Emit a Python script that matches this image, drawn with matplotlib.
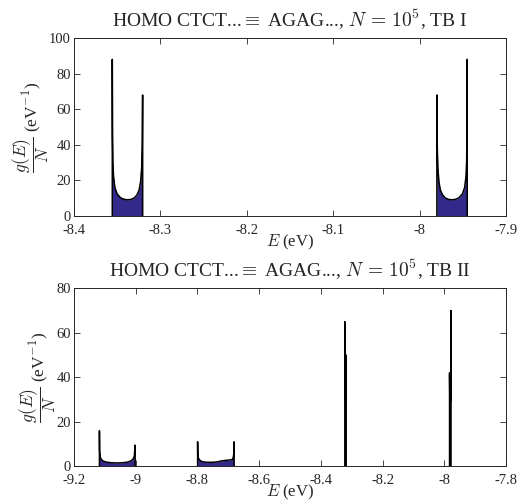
import numpy as np
import matplotlib
matplotlib.use('Agg')
import matplotlib.pyplot as plt
from matplotlib.ticker import FormatStrFormatter

plt.rcParams['font.family'] = ['Liberation Serif', 'DejaVu Serif']
plt.rcParams['mathtext.fontset'] = 'cm'
plt.rcParams['axes.unicode_minus'] = False

# density of states, one band per list (E in eV, g/N in 1/eV)
# TB I
tb1_band1_E = [-8.3555, -8.3555, -8.3552, -8.3548, -8.3540, -8.3525, -8.3500, -8.3460, -8.3420,
               -8.3380, -8.3340, -8.3300, -8.3270, -8.3245, -8.3228, -8.3215, -8.3208, -8.3204, -8.3204]
tb1_band1_g = [0, 88, 45, 30, 22, 16, 12.5, 10.3, 9.4, 9.1, 9.3, 10.2, 11.8, 14.5, 19, 27, 40, 68, 0]
tb1_band2_E = [-7.9800, -7.9800, -7.9796, -7.9789, -7.9776, -7.9759, -7.9734, -7.9704, -7.9664,
               -7.9624, -7.9584, -7.9544, -7.9504, -7.9479, -7.9464, -7.9456, -7.9452, -7.9449, -7.9449]
tb1_band2_g = [0, 68, 40, 27, 19, 14.5, 11.8, 10.2, 9.3, 9.1, 9.4, 10.3, 12.5, 16, 22, 30, 45, 88, 0]

# TB II
tb2_band1_E = [-9.117, -9.117, -9.1165, -9.115, -9.112, -9.106, -9.095, -9.080, -9.060,
               -9.040, -9.025, -9.014, -9.008, -9.004, -9.0015, -9.0015]
tb2_band1_g = [0, 16, 7, 4.5, 3.3, 2.4, 1.9, 1.6, 1.5, 1.6, 1.9, 2.5, 3.3, 4.5, 9.5, 0]
tb2_band2_E = [-8.799, -8.799, -8.7985, -8.797, -8.794, -8.788, -8.778, -8.765, -8.752,
               -8.740, -8.730, -8.7235, -8.6865, -8.6835, -8.6815, -8.681, -8.681]
tb2_band2_g = [0, 11, 6, 4, 3, 2.3, 1.9, 1.8, 1.8, 1.9, 2.1, 2.4, 3, 4, 6, 11, 0]
tb2_band3_E = [-8.3222, -8.3222, -8.3215, -8.3205, -8.3195, -8.3185, -8.3178, -8.3178]
tb2_band3_g = [0, 65, 35, 30, 30, 33, 50, 0]
tb2_band4_E = [-7.9830, -7.9830, -7.9822, -7.9812, -7.9802, -7.9792, -7.9785, -7.9785]
tb2_band4_g = [0, 42, 31, 29, 29, 33, 70, 0]

navy = '#32298a'
axcol = '#262626'


def draw_band(ax, E, g):
    ax.fill_between(E, g, 0, color=navy, lw=0)
    ax.plot(E, g, color='k', lw=1.1)


def style_axes(ax, xlim, ylim, xticks, yticks, title):
    ax.set_xlim(xlim)
    ax.set_ylim(ylim)
    ax.set_xticks(xticks)
    ax.set_yticks(yticks)
    ax.xaxis.set_major_formatter(FormatStrFormatter('%g'))
    ax.tick_params(direction='in', top=True, right=True, length=4, width=0.6,
                   colors=axcol, labelsize=10.5, pad=2)
    ax.tick_params(axis='x', pad=5.5)
    for s in ax.spines.values():
        s.set_color(axcol)
        s.set_linewidth(0.7)
    ax.set_xlabel(r'$E$ (eV)', fontsize=12, color=axcol, labelpad=-3)
    ax.set_ylabel(r'$\dfrac{g(E)}{N}$ (eV$^{-1}$)', fontsize=12.5, color=axcol, labelpad=-1)
    ax.set_title(title, fontsize=14, color=axcol, pad=8)


fig = plt.figure(figsize=(5.31, 5.04), dpi=100)
ax1 = fig.add_axes([0.139, 0.5714, 0.814, 0.3532])
ax2 = fig.add_axes([0.139, 0.0748, 0.814, 0.3532])

draw_band(ax1, tb1_band1_E, tb1_band1_g)
draw_band(ax1, tb1_band2_E, tb1_band2_g)
style_axes(ax1, (-8.4, -7.9), (0, 100), [-8.4, -8.3, -8.2, -8.1, -8.0, -7.9],
           [0, 20, 40, 60, 80, 100],
           r'HOMO CTCT...$\equiv$ AGAG..., $N\,=\,10^5$, TB I')

draw_band(ax2, tb2_band1_E, tb2_band1_g)
draw_band(ax2, tb2_band2_E, tb2_band2_g)
draw_band(ax2, tb2_band3_E, tb2_band3_g)
draw_band(ax2, tb2_band4_E, tb2_band4_g)
style_axes(ax2, (-9.2, -7.8), (0, 80), [-9.2, -9.0, -8.8, -8.6, -8.4, -8.2, -8.0, -7.8],
           [0, 20, 40, 60, 80],
           r'HOMO CTCT...$\equiv$ AGAG..., $N\,=\,10^5$, TB II')

fig.savefig('out.png', dpi=100)
